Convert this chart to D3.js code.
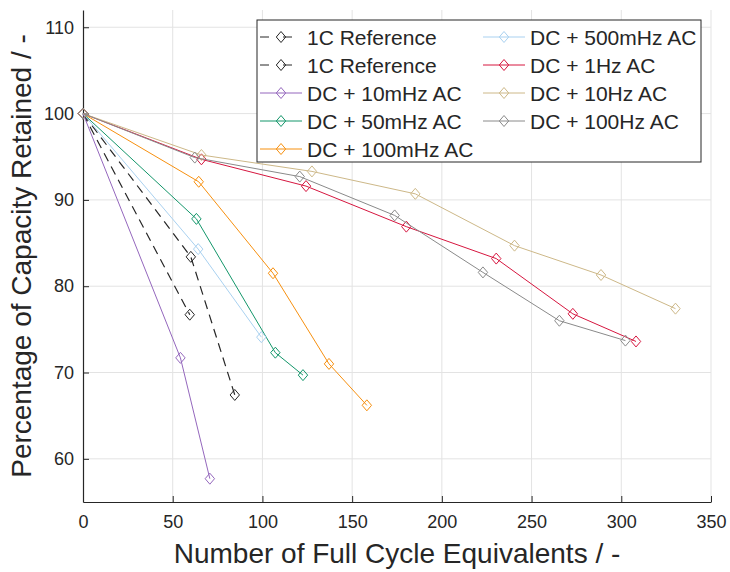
<!DOCTYPE html>
<html>
<head>
  <meta charset="utf-8">
  <title>Capacity Retained</title>
  <script src="https://cdn.jsdelivr.net/npm/d3@7"></script>
  <style>
    body { margin: 0; background: #fff; }
    svg text { font-family: "Liberation Sans", Arial, sans-serif; fill: #262626; }
  </style>
</head>
<body>
<div id="chart"></div>
<script>
// data (x = full cycle equivalents, y = % capacity retained)
var seriesNames = ["1C Reference", "1C Reference", "DC + 10mHz AC", "DC + 50mHz AC", "DC + 100mHz AC",
                   "DC + 500mHz AC", "DC + 1Hz AC", "DC + 10Hz AC", "DC + 100Hz AC"];
var seriesColors = ["#262626", "#262626", "#9467bd", "#13966a", "#f7900f",
                    "#a9d1f0", "#d6163f", "#cdb888", "#8a8a8a"];
var seriesDashed = [true, true, false, false, false, false, false, false, false];

var refA_x = [0, 59.5];
var refA_y = [100, 76.7];
var refB_x = [0, 60.1, 84.6];
var refB_y = [100, 83.4, 67.4];
var ac10m_x = [0, 54.3, 70.7];
var ac10m_y = [100, 71.7, 57.7];
var ac50m_x = [0, 63.2, 107.2, 122.6];
var ac50m_y = [100, 87.8, 72.3, 69.7];
var ac100m_x = [0, 64.5, 105.9, 137.1, 158.2];
var ac100m_y = [100, 92.1, 81.5, 71.0, 66.2];
var ac500m_x = [0, 64.2, 99.4];
var ac500m_y = [100, 84.3, 74.1];
var ac1_x = [0, 66.0, 124.3, 180.2, 230.3, 273.0, 308.2];
var ac1_y = [100, 94.7, 91.6, 86.9, 83.2, 76.8, 73.6];
var ac10_x = [0, 66.0, 127.6, 185.2, 240.5, 288.7, 330.2];
var ac10_y = [100, 95.2, 93.3, 90.7, 84.7, 81.3, 77.4];
var ac100_x = [0, 62.3, 120.8, 173.7, 222.9, 265.5, 302.3];
var ac100_y = [100, 94.9, 92.7, 88.2, 81.6, 76.0, 73.7];

var xTicks = [0, 50, 100, 150, 200, 250, 300, 350];
var yTicks = [60, 70, 80, 90, 100, 110];

var allX = [refA_x, refB_x, ac10m_x, ac50m_x, ac100m_x, ac500m_x, ac1_x, ac10_x, ac100_x];
var allY = [refA_y, refB_y, ac10m_y, ac50m_y, ac100m_y, ac500m_y, ac1_y, ac10_y, ac100_y];

var W = 730, H = 572;
var margin = {top: 10, right: 19, bottom: 70, left: 83};
var width = W - margin.left - margin.right,
    height = H - margin.top - margin.bottom;

var svg = d3.select("#chart").append("svg")
    .attr("width", W)
    .attr("height", H);

var g = svg.append("g")
    .attr("transform", "translate(" + margin.left + "," + margin.top + ")");

var x = d3.scaleLinear().domain([0, 350]).range([0, width]);
var y = d3.scaleLinear().domain([55, 112]).range([height, 0]);

// grid
g.selectAll(".vgrid").data(xTicks.slice(1)).enter().append("line")
    .attr("x1", function(d){ return x(d); }).attr("x2", function(d){ return x(d); })
    .attr("y1", 0).attr("y2", height)
    .attr("stroke", "#e3e3e3").attr("stroke-width", 1);
g.selectAll(".hgrid").data(yTicks).enter().append("line")
    .attr("x1", 0).attr("x2", width)
    .attr("y1", function(d){ return y(d); }).attr("y2", function(d){ return y(d); })
    .attr("stroke", "#e3e3e3").attr("stroke-width", 1);

// axes, ticks pointing inward like matlab
var xAxis = g.append("g")
    .attr("transform", "translate(0," + height + ")")
    .call(d3.axisBottom(x).tickValues(xTicks).tickSizeInner(-6).tickSizeOuter(0).tickPadding(13));
var yAxis = g.append("g")
    .call(d3.axisLeft(y).tickValues(yTicks).tickSizeInner(-6).tickSizeOuter(0).tickPadding(9));
[xAxis, yAxis].forEach(function(a){
  a.select(".domain").attr("stroke", "#262626").attr("stroke-width", 1.2);
  a.selectAll(".tick line").attr("stroke", "#262626");
  a.selectAll(".tick text").attr("font-size", 18).attr("fill", "#262626")
    .attr("font-family", "Liberation Sans, Arial, sans-serif");
});

// series
var diamond = "M0,-5.5L4.7,0L0,5.5L-4.7,0Z";
var line = d3.line().x(function(d){ return x(d[0]); }).y(function(d){ return y(d[1]); });

allX.forEach(function(xs, i){
  var pts = xs.map(function(v, j){ return [v, allY[i][j]]; });
  var sg = g.append("g");
  sg.append("path").datum(pts)
    .attr("d", line)
    .attr("fill", "none")
    .attr("stroke", seriesColors[i])
    .attr("stroke-width", seriesDashed[i] ? 1.2 : 1)
    .attr("stroke-dasharray", seriesDashed[i] ? "9,6" : null);
  sg.selectAll("path.m").data(pts).enter().append("path")
    .attr("class", "m")
    .attr("d", diamond)
    .attr("transform", function(d){ return "translate(" + x(d[0]) + "," + y(d[1]) + ")"; })
    .attr("fill", "none")
    .attr("stroke", seriesColors[i])
    .attr("stroke-width", 1);
});

// legend
var lg = svg.append("g").attr("transform", "translate(257,20)");
lg.append("rect")
    .attr("width", 444).attr("height", 142)
    .attr("fill", "#fff").attr("stroke", "#262626").attr("stroke-width", 1);
seriesNames.forEach(function(name, i){
  var col = i < 5 ? 0 : 1, row = i < 5 ? i : i - 5;
  var lx = col === 0 ? 3 : 226, ly = 17 + row * 28;
  var item = lg.append("g").attr("transform", "translate(" + lx + "," + ly + ")");
  item.append("line")
    .attr("x1", 0).attr("x2", 42).attr("y1", 0).attr("y2", 0)
    .attr("stroke", seriesColors[i]).attr("stroke-width", 1)
    .attr("stroke-dasharray", seriesDashed[i] ? "9,14" : null);
  item.append("path").attr("d", diamond)
    .attr("transform", "translate(21,0)")
    .attr("fill", "none").attr("stroke", seriesColors[i]);
  item.append("text")
    .attr("x", 47).attr("y", 7.5)
    .attr("font-size", 21)
    .attr("fill", "#000")
    .text(name);
});

// axis titles
svg.append("text")
    .attr("x", margin.left + width / 2).attr("y", 563)
    .attr("text-anchor", "middle")
    .attr("font-size", 28)
    .text("Number of Full Cycle Equivalents / -");
svg.append("text")
    .attr("transform", "translate(31," + (margin.top + height / 2) + ") rotate(-90)")
    .attr("text-anchor", "middle")
    .attr("font-size", 28)
    .text("Percentage of Capacity Retained / -");
</script>
</body>
</html>
